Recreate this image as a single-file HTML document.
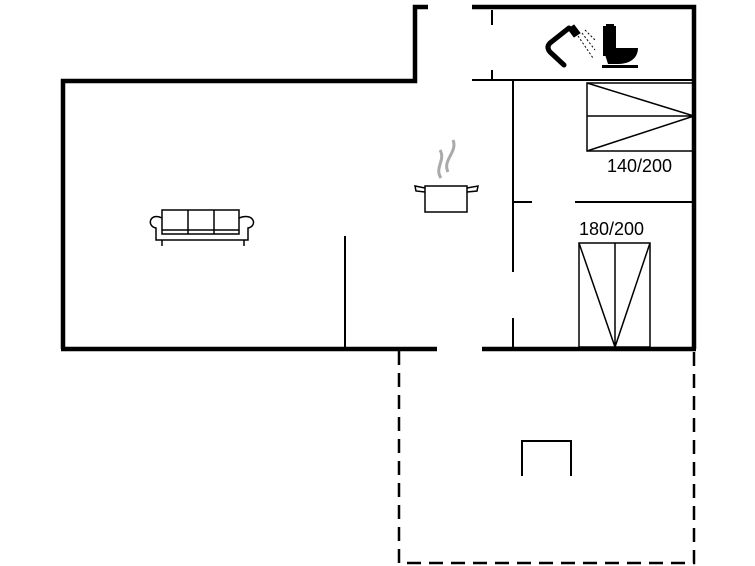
<!DOCTYPE html>
<html><head><style>html,body{margin:0;padding:0;background:#fff;}svg{display:block}</style></head>
<body>
<svg width="755" height="566" viewBox="0 0 755 566" xmlns="http://www.w3.org/2000/svg">
<g stroke="#000" fill="none" stroke-linecap="butt">
<path d="M63 349 V81 H415 V7 H428" stroke-width="4.5"/>
<path d="M472 7 H694 V349" stroke-width="4.5"/>
<path d="M61 349 H437" stroke-width="4.5"/>
<path d="M482 349 H696" stroke-width="4.5"/>
<path d="M472 80 H694" stroke-width="2"/>
<path d="M400 80 H415" stroke-width="2"/>
<path d="M492 10 V25 M492 70 V80" stroke-width="2"/>
<path d="M513 80 V272 M513 318 V349" stroke-width="2"/>
<path d="M513 202 H532 M575 202 H694" stroke-width="2"/>
<path d="M345 236 V349" stroke-width="2"/>
<rect x="587" y="83" width="107" height="68" stroke-width="1.5"/>
<path d="M587 116 H694 M587 83 L694 116 L587 151" stroke-width="1.5"/>
<rect x="579" y="243" width="71" height="104" stroke-width="1.5"/>
<path d="M615 243 V347 M579 243 L615 347 L650 243" stroke-width="1.5"/>
<path d="M399 351 V563 H694 V351" stroke-width="2.5" stroke-dasharray="14 8"/>
<path d="M522 476 V441 H571 V476" stroke-width="2"/>
<g stroke-width="1.5">
<rect x="162" y="210" width="77" height="24"/>
<path d="M188 210 V234 M214 210 V234 M162 230 H239"/>
<path d="M162 218 C150 212 146 226 156 228 V240 H248 V228 C258 226 254 212 239 218"/>
<path d="M162 240 V246 M244 240 V246"/>
</g>
<g stroke-width="1.5">
<path d="M425 186 V212 H467 V186 Z"/>
<path d="M425 188 L415 186 L416 191 L425 192 M467 188 L478 186 L477 191 L467 192"/>
</g>
<path d="M441 178 C434 168 446 160 440 150 M448 172 C442 160 458 152 453 140" stroke="#aaa" stroke-width="3"/>
<path d="M564 65 L550 52 Q546 47 550 43 L569 28" stroke-width="5" stroke-linecap="round"/>
<path d="M568 29 L574 25 L580 33 L574 37 Z" fill="#000" stroke-width="1"/>
<path d="M578 36 L593 58 M582 33 L595 50 M585 30 L595 40" stroke-width="1" stroke-dasharray="2 2"/>
</g>
<g fill="#000">
<rect x="603" y="26" width="13" height="30"/>
<path d="M603 48 H638 C638 58 630 64 618 64 H608 Z"/>
<rect x="602" y="65" width="36" height="3"/>
<rect x="606" y="24" width="8" height="3"/>
</g>
<g font-family="Liberation Sans, sans-serif" font-size="18" fill="#000">
<text x="607" y="172">140/200</text>
<text x="579" y="235">180/200</text>
</g>
</svg>
</body></html>
